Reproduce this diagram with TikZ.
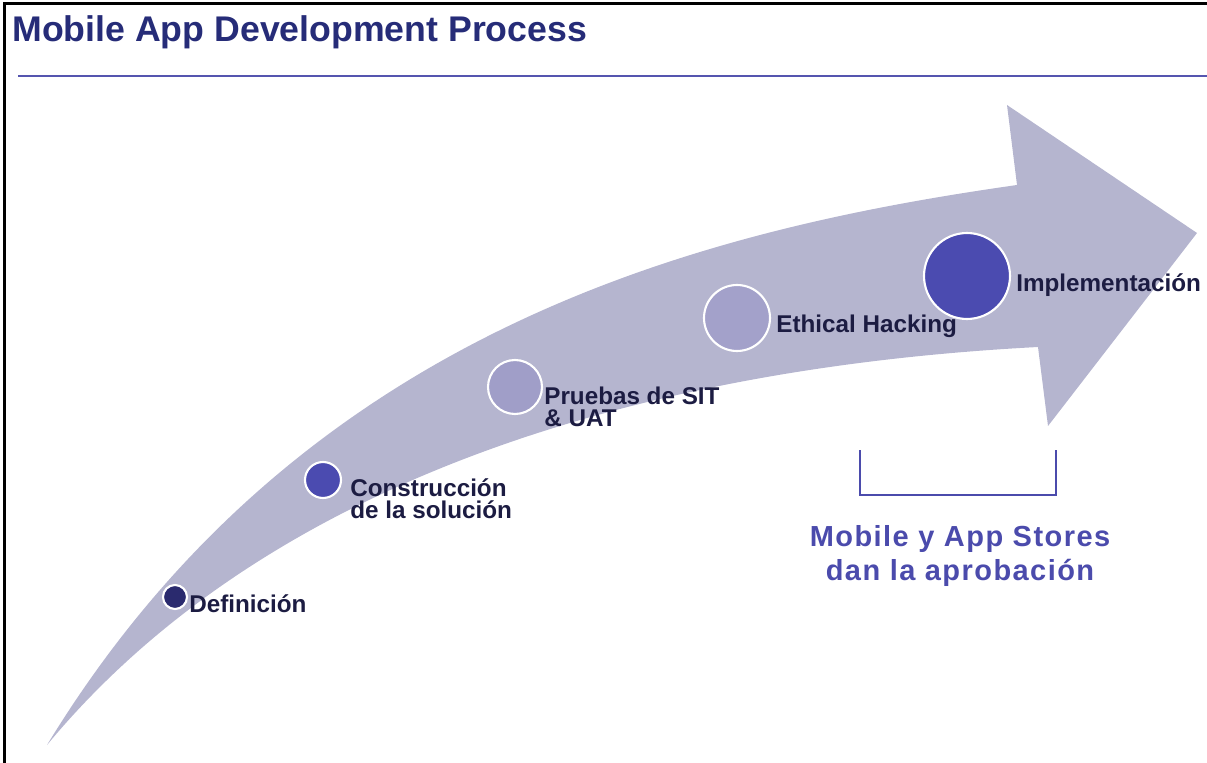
\documentclass[tikz,border=0pt]{standalone}
\usepackage{fontspec}
\setmainfont{Liberation Sans}
\newfontfamily\wideface[LetterSpace=5]{Liberation Sans}
\definecolor{arrowgray}{RGB}{181, 181, 207}
\definecolor{titlenavy}{RGB}{38, 44, 120}
\definecolor{labelnavy}{RGB}{28, 28, 66}
\definecolor{rulepurple}{RGB}{85, 85, 175}
\definecolor{storeblue}{RGB}{75, 75, 172}
\definecolor{darkdot}{RGB}{42, 42, 110}
\definecolor{middot}{RGB}{75, 75, 176}
\definecolor{paledot}{RGB}{160, 158, 200}
\usetikzlibrary{positioning}

\begin{document}
\begin{tikzpicture}[x=0.02cm, y=-0.02cm,
  stage/.style={circle, draw=white, line width=1.2pt, inner sep=0pt},
  stagelabel/.style={anchor=west, align=left, inner sep=0pt, text=labelnavy, font=\fontsize{13.8}{12.5}\selectfont\bfseries}
]
  \useasboundingbox (0,0) rectangle (1207,763);
  % frame and heading
  \draw[line width=1.7pt] (4.5,763) -- (4.5,3.5) -- (1207,3.5);
  \node[anchor=base west, inner sep=0pt, text=titlenavy, font=\fontsize{20.3}{24}\selectfont\bfseries] (title) at (12,42) {Mobile App Development Process};
  \draw[rulepurple, line width=1.7pt] (18,76) -- (1207,76);

  % big curved arrow
  \fill[arrowgray] (47,745) .. controls (300,330) and (700,230) .. (1017,185) -- (1007,105) -- (1197,233) -- (1048,426) -- (1038,347) .. controls (600,370) and (250,500) .. (47,745) -- cycle;

  % stages
  \node[stage, fill=darkdot, minimum size=0.48cm] (def) at (175,597) {};
  \node[stage, fill=middot, minimum size=0.72cm] (cons) at (323,480) {};
  \node[stage, fill=paledot, minimum size=1.08cm] (test) at (515,387) {};
  \node[stage, fill=paledot!97!white, minimum size=1.32cm] (hack) at (737,318) {};
  \node[stage, fill=middot, minimum size=1.72cm] (impl) at (967,276) {};

  \node[stagelabel] (deflbl) at (189,604) {Definición};
  \node[stagelabel] (conslbl) at (350,499) {Construcción\\de la solución};
  \node[stagelabel] (testlbl) at (544,407) {Pruebas de SIT\\\& UAT};
  \node[stagelabel] (hacklbl) at (776,326) {Ethical Hacking};
  \node[stagelabel] (impllbl) at (1016,285) {Implementación};

  % approval bracket
  \draw[storeblue, line width=1.1pt] (860,450) -- (860,495) -- (1056,495) -- (1056,450);
  \node[align=center, inner sep=0pt, text=storeblue, font=\fontsize{16.5}{19.3}\selectfont\wideface\bfseries] (stores) at (960,556) {Mobile y App Stores\\dan la aprobación};
\end{tikzpicture}
\end{document}
